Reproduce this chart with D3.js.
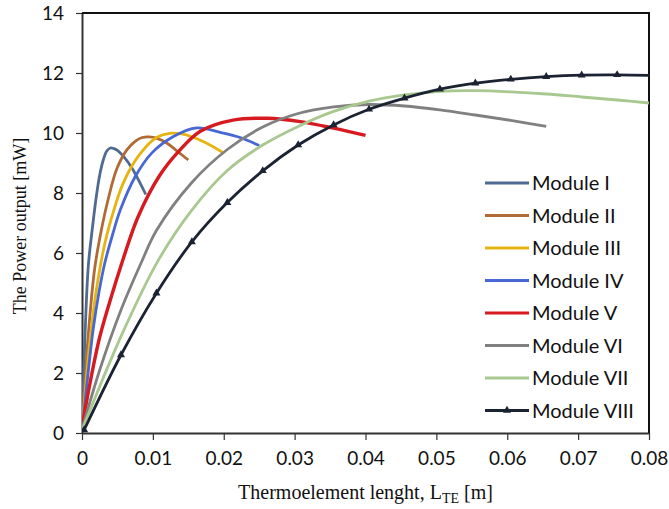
<!DOCTYPE html>
<html>
<head>
<meta charset="utf-8">
<script src="https://cdn.jsdelivr.net/npm/d3@7"></script>
<style>
  body { margin: 0; background: #fff; }
  .axis text { font-family: Lato, "Open Sans", sans-serif; font-size: 19px; fill: #111; }
  .axis path, .axis line { stroke: #333; }
</style>
</head>
<body>
<div id="chart"></div>
<script>
// DATA (length in m, power in mW)

let module_names = ["Module I", "Module II", "Module III", "Module IV", "Module V", "Module VI", "Module VII", "Module VIII"]
let module_colors = ["#4F6B91", "#B06A35", "#E6B410", "#4768D4", "#D71920", "#808080", "#A8C890", "#1B2232"]

let len_1 = [0.0001, 0.0004, 0.0009, 0.0015, 0.002, 0.0025, 0.003, 0.0035, 0.004, 0.0045, 0.005, 0.006, 0.007, 0.008, 0.009]
let pow_1 = [0.8, 3.1, 5.6, 6.9, 7.85, 8.6, 9.1, 9.4, 9.5, 9.48, 9.42, 9.18, 8.85, 8.42, 7.95]

let len_2 = [0.0001, 0.0005, 0.001, 0.0018, 0.0028, 0.0037, 0.0049, 0.0063, 0.0075, 0.0085, 0.0095, 0.0105, 0.012, 0.0135, 0.015]
let pow_2 = [0.4, 2.0, 3.6, 5.5, 6.85, 7.8, 8.8, 9.43, 9.72, 9.85, 9.87, 9.83, 9.66, 9.38, 9.1]

let len_3 = [0.0001, 0.0005, 0.001, 0.0018, 0.0025, 0.0033, 0.0042, 0.0058, 0.0079, 0.0105, 0.0124, 0.014, 0.0152, 0.0176, 0.02]
let pow_3 = [0.3, 1.5, 2.8, 4.4, 5.45, 6.4, 7.2, 8.32, 9.21, 9.85, 9.99, 9.97, 9.9, 9.66, 9.33]

let len_4 = [0.0001, 0.0005, 0.001, 0.0016, 0.0024, 0.0032, 0.0043, 0.0054, 0.0075, 0.0098, 0.0129, 0.0162, 0.0195, 0.0223, 0.025]
let pow_4 = [0.3, 1.2, 2.3, 3.5, 4.7, 5.65, 6.6, 7.43, 8.54, 9.32, 9.88, 10.17, 10.02, 9.85, 9.58]

let len_5 = [0.0001, 0.001, 0.0025, 0.0044, 0.0054, 0.0079, 0.011, 0.0138, 0.0167, 0.0213, 0.0261, 0.0308, 0.0355, 0.04]
let pow_5 = [0.3, 1.5, 3.2, 4.75, 5.5, 7.2, 8.6, 9.43, 10.06, 10.43, 10.49, 10.38, 10.16, 9.92]

let len_6 = [0.0001, 0.0025, 0.0055, 0.0084, 0.0105, 0.0155, 0.0205, 0.0255, 0.0305, 0.0355, 0.0405, 0.0455, 0.0505, 0.0555, 0.0605, 0.0655]
let pow_6 = [0.2, 2.1, 4.1, 5.7, 6.75, 8.35, 9.45, 10.2, 10.65, 10.87, 10.95, 10.9, 10.77, 10.6, 10.42, 10.22]

let len_7 = [0.0001, 0.0056, 0.0108, 0.0155, 0.0205, 0.0255, 0.0305, 0.0355, 0.0405, 0.0455, 0.0505, 0.0555, 0.0605, 0.0655, 0.0705, 0.0755, 0.08]
let pow_7 = [0.15, 3.27, 5.77, 7.43, 8.75, 9.6, 10.22, 10.72, 11.06, 11.27, 11.39, 11.41, 11.37, 11.3, 11.2, 11.1, 11.0]

let len_8 = [0.0003, 0.0055, 0.0105, 0.0155, 0.0205, 0.0255, 0.0305, 0.0355, 0.0405, 0.0455, 0.0505, 0.0555, 0.0605, 0.0655, 0.0705, 0.0755, 0.08]
let pow_8 = [0.1, 2.6, 4.66, 6.37, 7.68, 8.74, 9.6, 10.27, 10.79, 11.16, 11.46, 11.66, 11.79, 11.88, 11.93, 11.94, 11.92]

let x_ticks = [0, 0.01, 0.02, 0.03, 0.04, 0.05, 0.06, 0.07, 0.08]
let y_ticks = [0, 2, 4, 6, 8, 10, 12, 14]

let all_len = [len_1, len_2, len_3, len_4, len_5, len_6, len_7, len_8]
let all_pow = [pow_1, pow_2, pow_3, pow_4, pow_5, pow_6, pow_7, pow_8]

let modules = module_names.map((name, i) => ({
    name: name,
    color: module_colors[i],
    values: all_len[i].map((l, j) => ({len: l, pow: all_pow[i][j]}))
}))

// CHART AREA
let margin = {top: 13, right: 20, bottom: 76, left: 82},
    width = 669 - margin.left - margin.right,
    height = 509 - margin.top - margin.bottom;

let svg = d3.select("#chart").append("svg")
    .attr("width", width + margin.left + margin.right)
    .attr("height", height + margin.top + margin.bottom)
    .append("g")
    .attr("transform", "translate(" + margin.left + "," + margin.top + ")");

svg.append("clipPath")
    .attr("id", "plot_clip")
    .append("rect")
    .attr("width", width)
    .attr("height", height)

// SCALES
let x_scale = d3.scaleLinear()
    .range([0, width])
    .domain([0, 0.08]);

let y_scale = d3.scaleLinear()
    .range([height, 0])
    .domain([0, 14]);

// AXIS
let xAxis = d3.axisBottom()
    .scale(x_scale)
    .tickValues(x_ticks)
    .tickFormat(d => d === 0 ? "0" : d3.format(".2f")(d))
    .tickSizeInner(7)
    .tickSizeOuter(0)
    .tickPadding(12)

let yAxis = d3.axisLeft()
    .scale(y_scale)
    .tickValues(y_ticks)
    .tickSizeInner(6)
    .tickSizeOuter(0)
    .tickPadding(12)

svg.append("g")
    .attr("class", "x-axis axis")
    .attr("transform", "translate(0," + height + ")")
    .call(xAxis);

svg.append("g")
    .attr("class", "y-axis axis")
    .call(yAxis);

svg.selectAll(".axis path").attr("stroke-width", 2)
svg.selectAll(".axis line").attr("stroke-width", 1.2)

// frame on top and right
svg.append("path")
    .attr("d", "M0,0H" + width + "V" + height)
    .attr("fill", "none")
    .attr("stroke", "#111")
    .attr("stroke-width", 2)

// LINES
let line = d3.line()
    .x(d => x_scale(d.len))
    .y(d => y_scale(d.pow))
    .curve(d3.curveCatmullRom.alpha(0.5))

let lines_group = svg.append("g").attr("clip-path", "url(#plot_clip)")

lines_group.selectAll(".module-line")
    .data(modules)
    .enter()
    .append("path")
    .attr("class", "module-line")
    .attr("d", d => line(d.values))
    .attr("fill", "none")
    .attr("stroke", d => d.color)
    .attr("stroke-width", d => d.name === "Module V" ? 3.4 : 2.8)
    .attr("stroke-linejoin", "round")

// triangle markers on Module VIII
let triangle = d3.symbol().type(d3.symbolTriangle).size(28)

lines_group.selectAll(".marker")
    .data(modules[7].values.filter(d => d.len < 0.079))
    .enter()
    .append("path")
    .attr("class", "marker")
    .attr("d", triangle)
    .attr("transform", d => "translate(" + x_scale(d.len) + "," + y_scale(d.pow) + ")")
    .attr("fill", module_colors[7])

// LEGEND
let legend = svg.append("g")
    .attr("transform", "translate(" + (485 - margin.left) + "," + (183 - margin.top) + ")")

let legend_rows = legend.selectAll(".legend-row")
    .data(modules)
    .enter()
    .append("g")
    .attr("class", "legend-row")
    .attr("transform", (d, i) => "translate(0," + i * 32.5 + ")")

legend_rows.append("line")
    .attr("x1", 0)
    .attr("x2", 44)
    .attr("stroke", d => d.color)
    .attr("stroke-width", 3)

legend_rows.filter(d => d.name === "Module VIII")
    .append("path")
    .attr("d", triangle)
    .attr("transform", "translate(22,0)")
    .attr("fill", module_colors[7])

legend_rows.append("text")
    .attr("x", 47)
    .attr("dy", "0.36em")
    .style("font-family", "Lato, 'Open Sans', sans-serif")
    .style("font-size", "20px")
    .attr("fill", "#111")
    .text(d => d.name)

// AXIS TITLES
let x_title = svg.append("text")
    .attr("x", width / 2)
    .attr("y", 499 - margin.top)
    .attr("text-anchor", "middle")
    .style("font-family", "'Liberation Serif', 'Times New Roman', serif")
    .style("font-size", "20px")
    .attr("fill", "#111")

x_title.append("tspan").text("Thermoelement lenght, L")
x_title.append("tspan").attr("dy", 4).style("font-size", "14px").text("TE")
x_title.append("tspan").attr("dy", -4).text(" [m]")

svg.append("text")
    .attr("transform", "translate(" + (26 - margin.left) + "," + (226 - margin.top) + ") rotate(-90)")
    .attr("text-anchor", "middle")
    .style("font-family", "'Liberation Serif', 'Times New Roman', serif")
    .style("font-size", "18px")
    .attr("fill", "#111")
    .text("The Power output [mW]")
</script>
</body>
</html>
